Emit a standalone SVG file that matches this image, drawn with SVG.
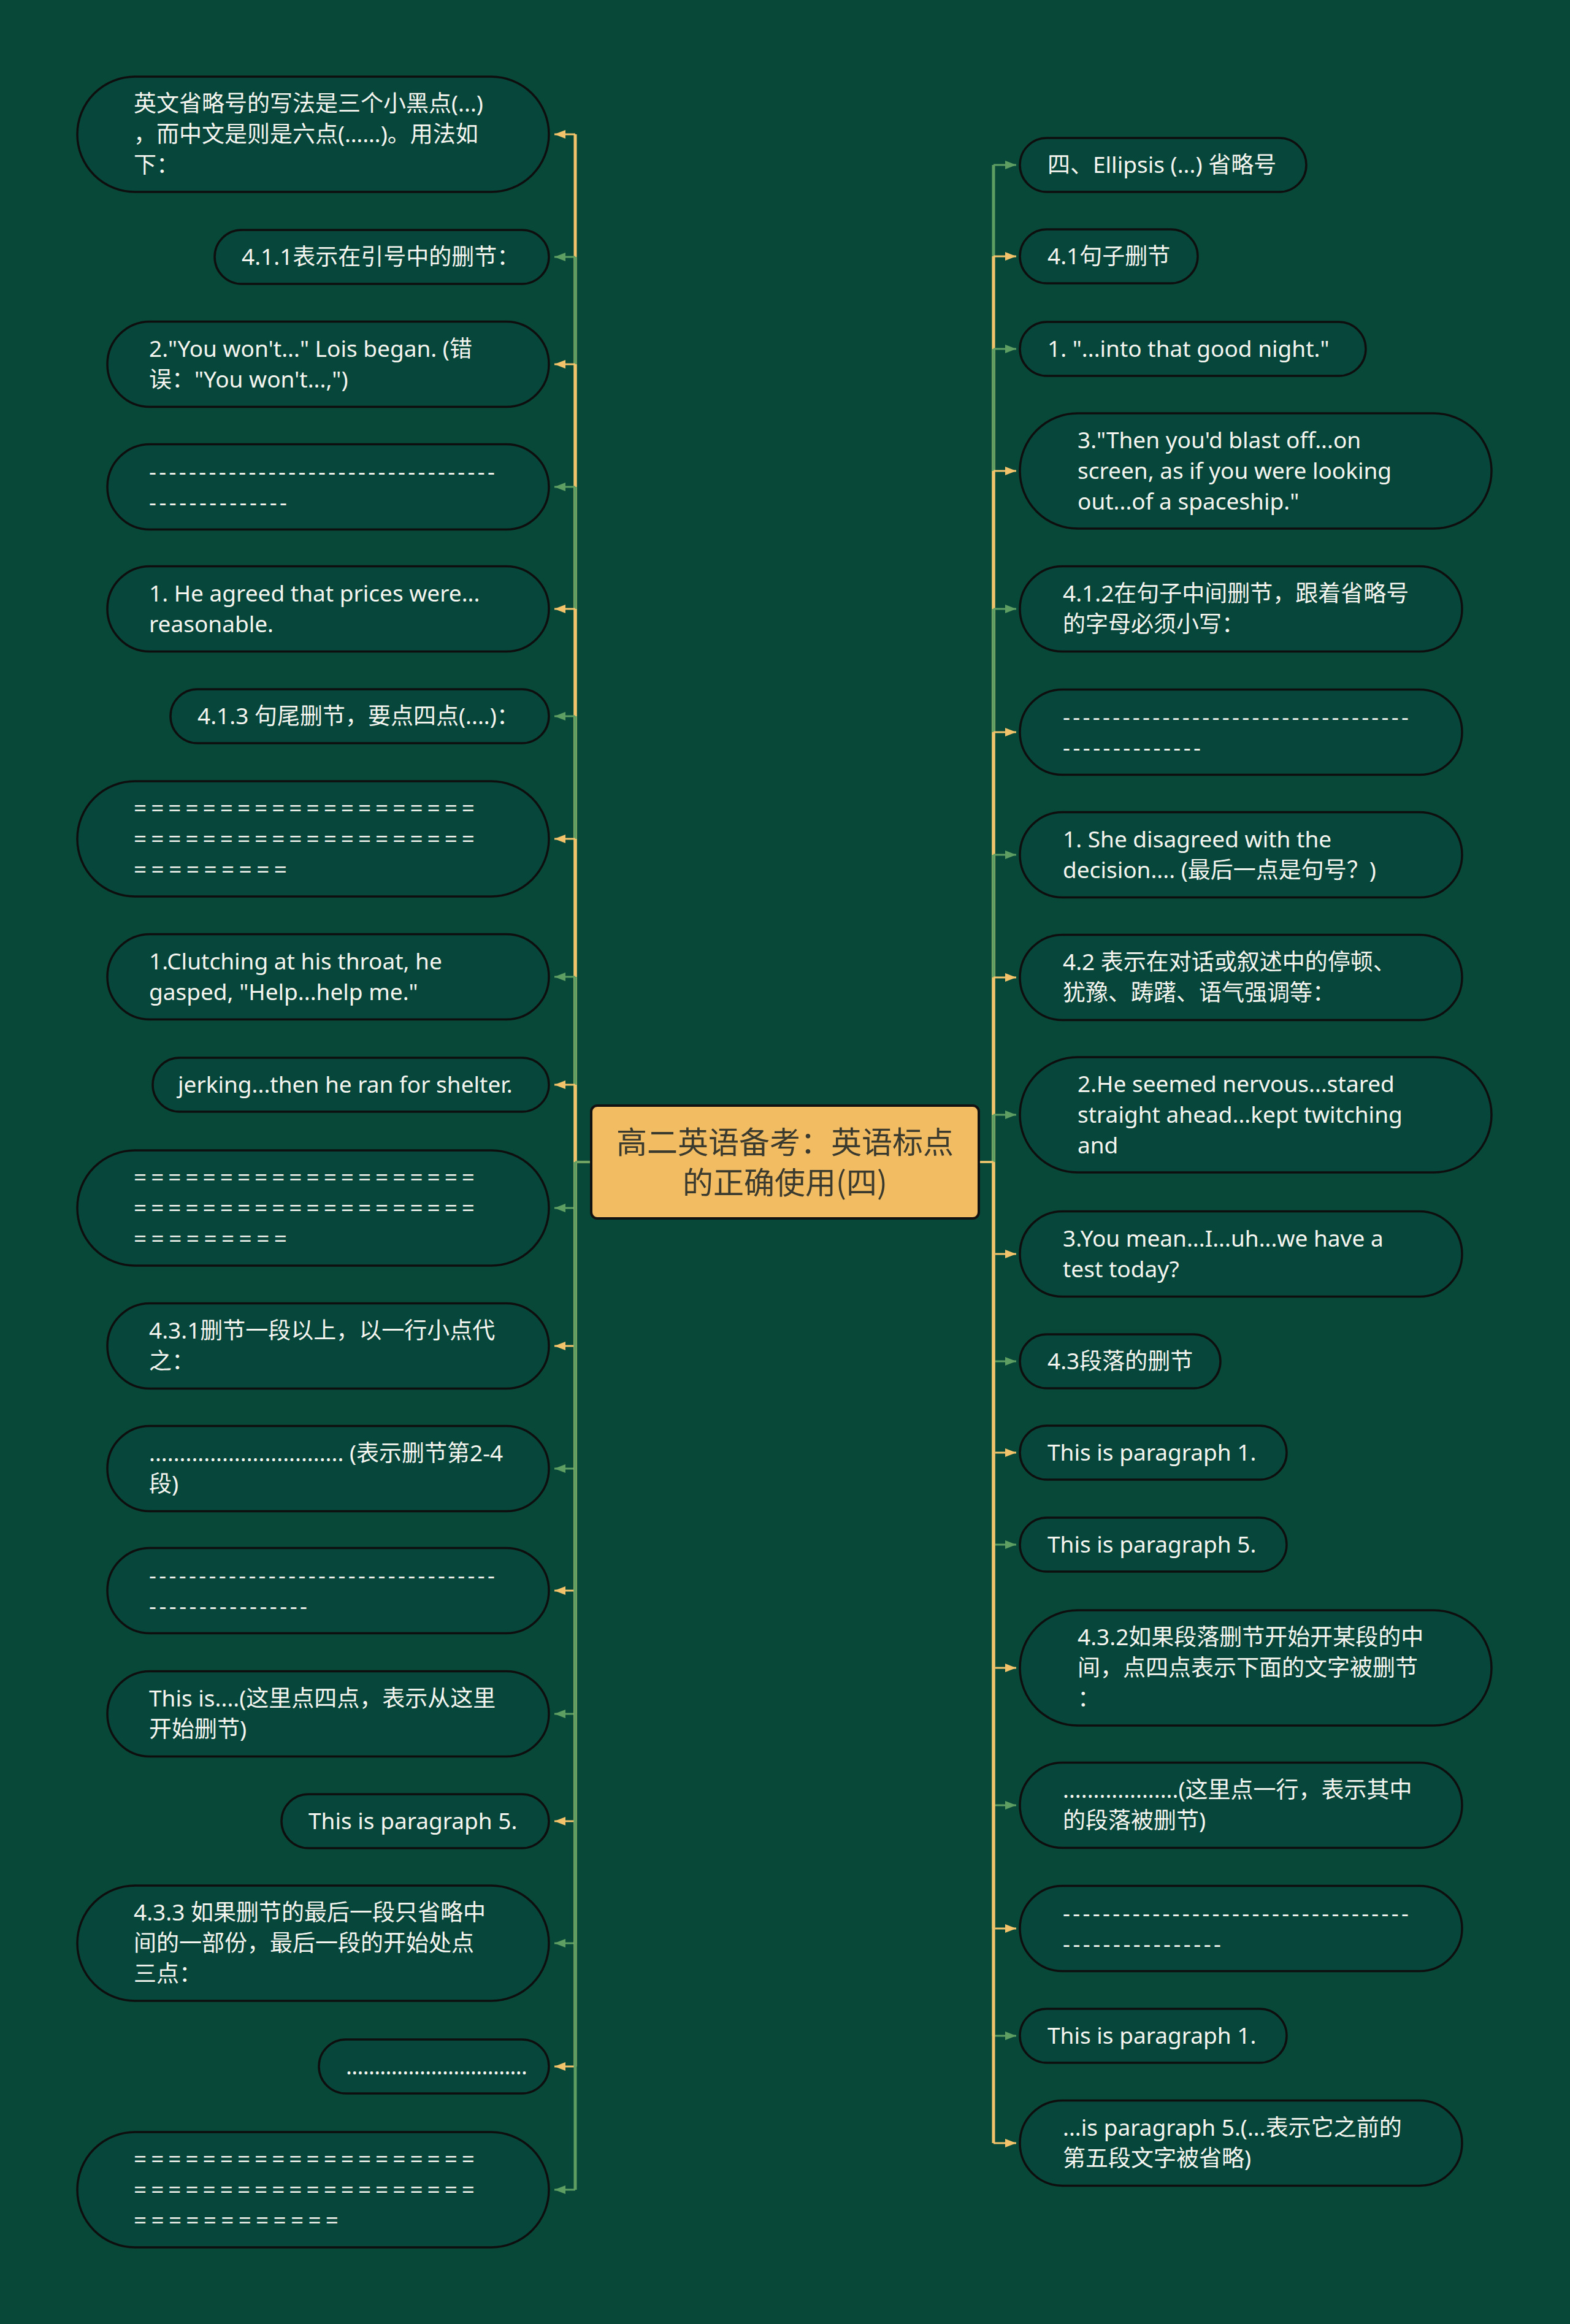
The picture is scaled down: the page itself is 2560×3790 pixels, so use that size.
<svg xmlns="http://www.w3.org/2000/svg" width="2560" height="3790" viewBox="0 0 2560 3790">
<defs>
<style>
.n{fill:#07463A;stroke:#0E0E0E;stroke-width:3.5}
.t{font-family:"Noto Sans","Noto Sans CJK SC",sans-serif;font-size:37px;fill:#F5F5F0}
.rr{fill:#F2BC63;stroke:#111111;stroke-width:4}
.rt{font-family:"Noto Sans CJK SC","Noto Sans",sans-serif;font-size:50px;fill:#3B3A2F;text-anchor:middle}
.cy{stroke:#F3C36B;fill:none}
.cg{stroke:#5E9E63;fill:none}
.v{stroke-width:5}
.h{stroke-width:3}
</style>
<marker id="ay" markerUnits="userSpaceOnUse" markerWidth="18" markerHeight="14" refX="18" refY="7" orient="auto"><path d="M0,0 L18,7 L0,14 Z" fill="#F3C36B"/></marker>
<marker id="ag" markerUnits="userSpaceOnUse" markerWidth="18" markerHeight="14" refX="18" refY="7" orient="auto"><path d="M0,0 L18,7 L0,14 Z" fill="#5E9E63"/></marker>
</defs>
<rect x="0" y="0" width="2560" height="3790" fill="#084838"/>

<g id="connectors">
<g class="cy"><path class="h" d="M964,1895 H938"/><path class="v" d="M938,1895 V219"/><path class="h" d="M938,219 H904" marker-end="url(#ay)"/></g>
<g class="cg"><path class="h" d="M964,1895 H938"/><path class="v" d="M938,1895 V419"/><path class="h" d="M938,419 H904" marker-end="url(#ag)"/></g>
<g class="cy"><path class="h" d="M964,1895 H938"/><path class="v" d="M938,1895 V594"/><path class="h" d="M938,594 H904" marker-end="url(#ay)"/></g>
<g class="cg"><path class="h" d="M964,1895 H938"/><path class="v" d="M938,1895 V794"/><path class="h" d="M938,794 H904" marker-end="url(#ag)"/></g>
<g class="cy"><path class="h" d="M964,1895 H938"/><path class="v" d="M938,1895 V993"/><path class="h" d="M938,993 H904" marker-end="url(#ay)"/></g>
<g class="cg"><path class="h" d="M964,1895 H938"/><path class="v" d="M938,1895 V1168"/><path class="h" d="M938,1168 H904" marker-end="url(#ag)"/></g>
<g class="cy"><path class="h" d="M964,1895 H938"/><path class="v" d="M938,1895 V1368"/><path class="h" d="M938,1368 H904" marker-end="url(#ay)"/></g>
<g class="cg"><path class="h" d="M964,1895 H938"/><path class="v" d="M938,1895 V1593"/><path class="h" d="M938,1593 H904" marker-end="url(#ag)"/></g>
<g class="cy"><path class="h" d="M964,1895 H938"/><path class="v" d="M938,1895 V1769"/><path class="h" d="M938,1769 H904" marker-end="url(#ay)"/></g>
<g class="cg"><path class="h" d="M964,1895 H938"/><path class="v" d="M938,1895 V1970"/><path class="h" d="M938,1970 H904" marker-end="url(#ag)"/></g>
<g class="cy"><path class="h" d="M964,1895 H938"/><path class="v" d="M938,1895 V2195"/><path class="h" d="M938,2195 H904" marker-end="url(#ay)"/></g>
<g class="cg"><path class="h" d="M964,1895 H938"/><path class="v" d="M938,1895 V2395"/><path class="h" d="M938,2395 H904" marker-end="url(#ag)"/></g>
<g class="cy"><path class="h" d="M964,1895 H938"/><path class="v" d="M938,1895 V2594"/><path class="h" d="M938,2594 H904" marker-end="url(#ay)"/></g>
<g class="cg"><path class="h" d="M964,1895 H938"/><path class="v" d="M938,1895 V2795"/><path class="h" d="M938,2795 H904" marker-end="url(#ag)"/></g>
<g class="cy"><path class="h" d="M964,1895 H938"/><path class="v" d="M938,1895 V2970"/><path class="h" d="M938,2970 H904" marker-end="url(#ay)"/></g>
<g class="cg"><path class="h" d="M964,1895 H938"/><path class="v" d="M938,1895 V3169"/><path class="h" d="M938,3169 H904" marker-end="url(#ag)"/></g>
<g class="cy"><path class="h" d="M964,1895 H938"/><path class="v" d="M938,1895 V3370"/><path class="h" d="M938,3370 H904" marker-end="url(#ay)"/></g>
<g class="cg"><path class="h" d="M964,1895 H938"/><path class="v" d="M938,1895 V3571"/><path class="h" d="M938,3571 H904" marker-end="url(#ag)"/></g>
<g class="cg"><path class="h" d="M1596,1895 H1620"/><path class="v" d="M1620,1895 V269"/><path class="h" d="M1620,269 H1657" marker-end="url(#ag)"/></g>
<g class="cy"><path class="h" d="M1596,1895 H1620"/><path class="v" d="M1620,1895 V418"/><path class="h" d="M1620,418 H1657" marker-end="url(#ay)"/></g>
<g class="cg"><path class="h" d="M1596,1895 H1620"/><path class="v" d="M1620,1895 V569"/><path class="h" d="M1620,569 H1657" marker-end="url(#ag)"/></g>
<g class="cy"><path class="h" d="M1596,1895 H1620"/><path class="v" d="M1620,1895 V768"/><path class="h" d="M1620,768 H1657" marker-end="url(#ay)"/></g>
<g class="cg"><path class="h" d="M1596,1895 H1620"/><path class="v" d="M1620,1895 V993"/><path class="h" d="M1620,993 H1657" marker-end="url(#ag)"/></g>
<g class="cy"><path class="h" d="M1596,1895 H1620"/><path class="v" d="M1620,1895 V1194"/><path class="h" d="M1620,1194 H1657" marker-end="url(#ay)"/></g>
<g class="cg"><path class="h" d="M1596,1895 H1620"/><path class="v" d="M1620,1895 V1394"/><path class="h" d="M1620,1394 H1657" marker-end="url(#ag)"/></g>
<g class="cy"><path class="h" d="M1596,1895 H1620"/><path class="v" d="M1620,1895 V1594"/><path class="h" d="M1620,1594 H1657" marker-end="url(#ay)"/></g>
<g class="cg"><path class="h" d="M1596,1895 H1620"/><path class="v" d="M1620,1895 V1818"/><path class="h" d="M1620,1818 H1657" marker-end="url(#ag)"/></g>
<g class="cy"><path class="h" d="M1596,1895 H1620"/><path class="v" d="M1620,1895 V2045"/><path class="h" d="M1620,2045 H1657" marker-end="url(#ay)"/></g>
<g class="cg"><path class="h" d="M1596,1895 H1620"/><path class="v" d="M1620,1895 V2220"/><path class="h" d="M1620,2220 H1657" marker-end="url(#ag)"/></g>
<g class="cy"><path class="h" d="M1596,1895 H1620"/><path class="v" d="M1620,1895 V2369"/><path class="h" d="M1620,2369 H1657" marker-end="url(#ay)"/></g>
<g class="cg"><path class="h" d="M1596,1895 H1620"/><path class="v" d="M1620,1895 V2519"/><path class="h" d="M1620,2519 H1657" marker-end="url(#ag)"/></g>
<g class="cy"><path class="h" d="M1596,1895 H1620"/><path class="v" d="M1620,1895 V2720"/><path class="h" d="M1620,2720 H1657" marker-end="url(#ay)"/></g>
<g class="cg"><path class="h" d="M1596,1895 H1620"/><path class="v" d="M1620,1895 V2944"/><path class="h" d="M1620,2944 H1657" marker-end="url(#ag)"/></g>
<g class="cy"><path class="h" d="M1596,1895 H1620"/><path class="v" d="M1620,1895 V3145"/><path class="h" d="M1620,3145 H1657" marker-end="url(#ay)"/></g>
<g class="cg"><path class="h" d="M1596,1895 H1620"/><path class="v" d="M1620,1895 V3320"/><path class="h" d="M1620,3320 H1657" marker-end="url(#ag)"/></g>
<g class="cy"><path class="h" d="M1596,1895 H1620"/><path class="v" d="M1620,1895 V3495"/><path class="h" d="M1620,3495 H1657" marker-end="url(#ay)"/></g>
</g>

<g id="root">
<rect class="rr" x="964" y="1803" width="632" height="184" rx="10"/>
<text class="rt"><tspan x="1280" y="1881">高二英语备考：英语标点</tspan><tspan x="1280" y="1947">的正确使用(四)</tspan></text>
</g>

<g id="L1"><rect class="n" x="126" y="125" width="769" height="188" rx="94"/>
<text class="t"><tspan x="218" y="182">英文省略号的写法是三个小黑点(...)</tspan><tspan x="218" y="232">，而中文是则是六点(……)。用法如</tspan><tspan x="218" y="282">下：</tspan></text></g>
<g id="L2"><rect class="n" x="350" y="375" width="545" height="88" rx="44"/>
<text class="t" x="394" y="432">4.1.1表示在引号中的删节：</text></g>
<g id="L3"><rect class="n" x="175" y="524.5" width="720" height="139" rx="69.5"/>
<text class="t"><tspan x="243" y="582">2."You won't..." Lois began. (错</tspan><tspan x="243" y="632">误："You won't...,")</tspan></text></g>
<g id="L4"><rect class="n" x="175" y="724.5" width="720" height="139" rx="69.5"/>
<text class="t"><tspan x="243" y="782" textLength="564" lengthAdjust="spacing">-----------------------------------</tspan><tspan x="243" y="832" textLength="225" lengthAdjust="spacing">--------------</tspan></text></g>
<g id="L5"><rect class="n" x="175" y="923.5" width="720" height="139" rx="69.5"/>
<text class="t"><tspan x="243" y="981">1. He agreed that prices were...</tspan><tspan x="243" y="1031">reasonable.</tspan></text></g>
<g id="L6"><rect class="n" x="278" y="1124" width="617" height="88" rx="44"/>
<text class="t" x="322" y="1181">4.1.3 句尾删节，要点四点(....)：</text></g>
<g id="L7"><rect class="n" x="126" y="1274" width="769" height="188" rx="94"/>
<text class="t"><tspan x="218" y="1331" textLength="556" lengthAdjust="spacing">====================</tspan><tspan x="218" y="1381" textLength="556" lengthAdjust="spacing">====================</tspan><tspan x="218" y="1431" textLength="250" lengthAdjust="spacing">=========</tspan></text></g>
<g id="L8"><rect class="n" x="175" y="1523.5" width="720" height="139" rx="69.5"/>
<text class="t"><tspan x="243" y="1581">1.Clutching at his throat, he</tspan><tspan x="243" y="1631">gasped, "Help...help me."</tspan></text></g>
<g id="L9"><rect class="n" x="249" y="1725" width="646" height="88" rx="44"/>
<text class="t" x="290" y="1782">jerking...then he ran for shelter.</text></g>
<g id="L10"><rect class="n" x="126" y="1876" width="769" height="188" rx="94"/>
<text class="t"><tspan x="218" y="1933" textLength="556" lengthAdjust="spacing">====================</tspan><tspan x="218" y="1983" textLength="556" lengthAdjust="spacing">====================</tspan><tspan x="218" y="2033" textLength="250" lengthAdjust="spacing">=========</tspan></text></g>
<g id="L11"><rect class="n" x="175" y="2125.5" width="720" height="139" rx="69.5"/>
<text class="t"><tspan x="243" y="2183">4.3.1删节一段以上，以一行小点代</tspan><tspan x="243" y="2233">之：</tspan></text></g>
<g id="L12"><rect class="n" x="175" y="2325.5" width="720" height="139" rx="69.5"/>
<text class="t"><tspan x="243" y="2383">................................ (表示删节第2-4</tspan><tspan x="243" y="2433">段)</tspan></text></g>
<g id="L13"><rect class="n" x="175" y="2524.5" width="720" height="139" rx="69.5"/>
<text class="t"><tspan x="243" y="2582" textLength="564" lengthAdjust="spacing">-----------------------------------</tspan><tspan x="243" y="2632" textLength="258" lengthAdjust="spacing">----------------</tspan></text></g>
<g id="L14"><rect class="n" x="175" y="2725.5" width="720" height="139" rx="69.5"/>
<text class="t"><tspan x="243" y="2783">This is....(这里点四点，表示从这里</tspan><tspan x="243" y="2833">开始删节)</tspan></text></g>
<g id="L15"><rect class="n" x="459" y="2926" width="436" height="88" rx="44"/>
<text class="t" x="503" y="2983">This is paragraph 5.</text></g>
<g id="L16"><rect class="n" x="126" y="3075" width="769" height="188" rx="94"/>
<text class="t"><tspan x="218" y="3132">4.3.3 如果删节的最后一段只省略中</tspan><tspan x="218" y="3182">间的一部份，最后一段的开始处点</tspan><tspan x="218" y="3232">三点：</tspan></text></g>
<g id="L17"><rect class="n" x="520" y="3326" width="375" height="88" rx="44"/>
<text class="t" x="564" y="3383" textLength="296" lengthAdjust="spacing">................................</text></g>
<g id="L18"><rect class="n" x="126" y="3477" width="769" height="188" rx="94"/>
<text class="t"><tspan x="218" y="3534" textLength="556" lengthAdjust="spacing">====================</tspan><tspan x="218" y="3584" textLength="556" lengthAdjust="spacing">====================</tspan><tspan x="218" y="3634" textLength="334" lengthAdjust="spacing">============</tspan></text></g>

<g id="R1"><rect class="n" x="1663" y="225" width="467" height="88" rx="44"/>
<text class="t" x="1708" y="282">四、Ellipsis (...) 省略号</text></g>
<g id="R2"><rect class="n" x="1663" y="374" width="290" height="88" rx="44"/>
<text class="t" x="1708" y="431">4.1句子删节</text></g>
<g id="R3"><rect class="n" x="1663" y="525" width="564" height="88" rx="44"/>
<text class="t" x="1708" y="582">1. "...into that good night."</text></g>
<g id="R4"><rect class="n" x="1663" y="674" width="769" height="188" rx="94"/>
<text class="t"><tspan x="1757" y="731">3."Then you'd blast off...on</tspan><tspan x="1757" y="781">screen, as if you were looking</tspan><tspan x="1757" y="831">out...of a spaceship."</tspan></text></g>
<g id="R5"><rect class="n" x="1663" y="923.5" width="721" height="139" rx="69.5"/>
<text class="t"><tspan x="1733" y="981">4.1.2在句子中间删节，跟着省略号</tspan><tspan x="1733" y="1031">的字母必须小写：</tspan></text></g>
<g id="R6"><rect class="n" x="1663" y="1124.5" width="721" height="139" rx="69.5"/>
<text class="t"><tspan x="1733" y="1182" textLength="564" lengthAdjust="spacing">-----------------------------------</tspan><tspan x="1733" y="1232" textLength="225" lengthAdjust="spacing">--------------</tspan></text></g>
<g id="R7"><rect class="n" x="1663" y="1324.5" width="721" height="139" rx="69.5"/>
<text class="t"><tspan x="1733" y="1382">1. She disagreed with the</tspan><tspan x="1733" y="1432">decision.... (最后一点是句号？)</tspan></text></g>
<g id="R8"><rect class="n" x="1663" y="1524.5" width="721" height="139" rx="69.5"/>
<text class="t"><tspan x="1733" y="1582">4.2 表示在对话或叙述中的停顿、</tspan><tspan x="1733" y="1632">犹豫、踌躇、语气强调等：</tspan></text></g>
<g id="R9"><rect class="n" x="1663" y="1724" width="769" height="188" rx="94"/>
<text class="t"><tspan x="1757" y="1781">2.He seemed nervous...stared</tspan><tspan x="1757" y="1831">straight ahead...kept twitching</tspan><tspan x="1757" y="1881">and</tspan></text></g>
<g id="R10"><rect class="n" x="1663" y="1975.5" width="721" height="139" rx="69.5"/>
<text class="t"><tspan x="1733" y="2033">3.You mean...I...uh...we have a</tspan><tspan x="1733" y="2083">test today?</tspan></text></g>
<g id="R11"><rect class="n" x="1663" y="2176" width="327" height="88" rx="44"/>
<text class="t" x="1708" y="2233">4.3段落的删节</text></g>
<g id="R12"><rect class="n" x="1663" y="2325" width="435" height="88" rx="44"/>
<text class="t" x="1708" y="2382">This is paragraph 1.</text></g>
<g id="R13"><rect class="n" x="1663" y="2475" width="435" height="88" rx="44"/>
<text class="t" x="1708" y="2532">This is paragraph 5.</text></g>
<g id="R14"><rect class="n" x="1663" y="2626" width="769" height="188" rx="94"/>
<text class="t"><tspan x="1757" y="2683">4.3.2如果段落删节开始开某段的中</tspan><tspan x="1757" y="2733">间，点四点表示下面的文字被删节</tspan><tspan x="1757" y="2783">：</tspan></text></g>
<g id="R15"><rect class="n" x="1663" y="2874.5" width="721" height="139" rx="69.5"/>
<text class="t"><tspan x="1733" y="2932">...................(这里点一行，表示其中</tspan><tspan x="1733" y="2982">的段落被删节)</tspan></text></g>
<g id="R16"><rect class="n" x="1663" y="3075.5" width="721" height="139" rx="69.5"/>
<text class="t"><tspan x="1733" y="3133" textLength="564" lengthAdjust="spacing">-----------------------------------</tspan><tspan x="1733" y="3183" textLength="258" lengthAdjust="spacing">----------------</tspan></text></g>
<g id="R17"><rect class="n" x="1663" y="3276" width="435" height="88" rx="44"/>
<text class="t" x="1708" y="3333">This is paragraph 1.</text></g>
<g id="R18"><rect class="n" x="1663" y="3425.5" width="721" height="139" rx="69.5"/>
<text class="t"><tspan x="1733" y="3483">...is paragraph 5.(...表示它之前的</tspan><tspan x="1733" y="3533">第五段文字被省略)</tspan></text></g>
</svg>
